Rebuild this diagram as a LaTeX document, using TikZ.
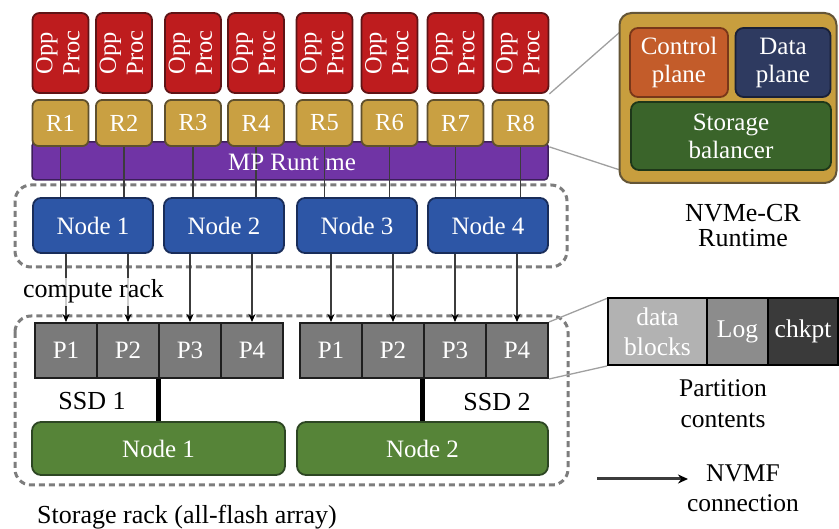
\documentclass[tikz,border=0pt]{standalone}
\usepackage{fontspec}
\setmainfont{Liberation Serif}
\usepackage{graphicx}
\usetikzlibrary{arrows.meta,calc}
\definecolor{oppF}{RGB}{190,28,30}
\definecolor{oppD}{RGB}{95,20,22}
\definecolor{rF}{RGB}{201,160,66}
\definecolor{rD}{RGB}{95,80,45}
\definecolor{mpF}{RGB}{112,52,165}
\definecolor{mpD}{RGB}{60,30,90}
\definecolor{nodeF}{RGB}{45,86,166}
\definecolor{nodeD}{RGB}{25,45,90}
\definecolor{pF}{RGB}{122,122,122}
\definecolor{pD}{RGB}{30,30,30}
\definecolor{gF}{RGB}{86,132,56}
\definecolor{gD}{RGB}{45,70,35}
\definecolor{rtF}{RGB}{200,158,62}
\definecolor{rtD}{RGB}{100,85,55}
\definecolor{cpF}{RGB}{195,92,42}
\definecolor{cpD}{RGB}{120,55,25}
\definecolor{dpF}{RGB}{46,58,96}
\definecolor{dpD}{RGB}{25,32,55}
\definecolor{sbF}{RGB}{58,100,42}
\definecolor{sbD}{RGB}{30,55,25}
\definecolor{dbF}{RGB}{178,178,178}
\definecolor{lgF}{RGB}{140,140,140}
\definecolor{ckF}{RGB}{58,58,58}
\definecolor{rackC}{RGB}{125,125,125}
\definecolor{calloutC}{RGB}{160,160,160}
\definecolor{linkC}{RGB}{60,60,60}
\newcommand\fsA{\fontsize{24.5}{27}\selectfont}
\newcommand\fsB{\fontsize{25}{28}\selectfont}
\newcommand\fsC{\fontsize{25.5}{30}\selectfont}
\newcommand\fsD{\fontsize{26}{28}\selectfont}
\begin{document}
\begin{tikzpicture}[x=1pt,y=-1pt,
  box/.style={draw, line width=1.8pt, inner sep=0pt, text=white, font=\fsB, align=center},
  opp/.style={box, draw=oppD, fill=oppF, rounded corners=7pt, minimum width=56pt, minimum height=80pt, font=\fsA},
  rbox/.style={box, draw=rD, fill=rF, rounded corners=6pt, minimum width=56pt, minimum height=46pt, font=\fsA},
  cnode/.style={box, draw=nodeD, fill=nodeF, rounded corners=8pt, minimum width=120pt, minimum height=55pt},
  part/.style={box, draw=pD, fill=pF, minimum width=62pt, minimum height=55pt, line width=2pt},
  snode/.style={box, draw=gD, fill=gF, rounded corners=9pt, minimum height=53pt},
  pc/.style={box, draw=black, minimum height=67pt, line width=2pt, font=\fsC},
  rack/.style={draw=rackC, line width=3pt, dash pattern=on 6pt off 4pt, rounded corners=16pt},
  link/.style={draw=linkC, line width=1.5pt},
  nvmf/.style={draw=linkC, line width=1.6pt, -{Stealth[length=8pt,width=7pt,color=black]}},
  callout/.style={draw=calloutC, line width=1.3pt},
  lbl/.style={font=\fsD, text=black, inner sep=0pt, align=center},
]
\useasboundingbox (0,0) rectangle (839,529);

% racks
\draw[rack] (15,185) rectangle (567,267);
\draw[rack] (15,316) rectangle (568,485);

% MP runtime bar
\node[box, draw=mpD, fill=mpF, rounded corners=4pt, minimum width=516pt, minimum height=38pt, line width=1.5pt] (mp) at (290,161) {};

% Opp Proc and R boxes
\foreach \i/\x in {1/60.5,2/124,3/193,4/256,5/324.5,6/389.5,7/455.5,8/520.5} {
  \node[opp] (o\i) at (\x,53) {\rotatebox{90}{\begin{tabular}{@{}c@{}}Opp\\Proc\end{tabular}}};
  \node[rbox] (r\i) at (\x,123) {R\i};
}

% compute nodes
\foreach \i/\x in {1/93,2/224,3/357,4/488}
  \node[cnode] (n\i) at (\x,225.5) {Node \i};

% partitions
\foreach \i/\x in {1/66,2/128,3/190,4/252}
  \node[part] (a\i) at (\x,350.5) {P\i};
\foreach \i/\x in {1/331,2/393,3/455,4/517}
  \node[part] (b\i) at (\x,350.5) {P\i};

% storage nodes
\node[snode, minimum width=253pt] (g1) at (158.5,448.5) {Node 1};
\node[snode, minimum width=251pt] (g2) at (422.5,448.5) {Node 2};

\draw[line width=5pt, black] (g1.north) -- (g1.north |- a2.south);
\draw[line width=5pt, black] (g2.north) -- (g2.north |- b2.south);

% R to compute nodes
\foreach \i/\n in {1/1,2/1,3/2,4/2,5/3,6/3,7/4,8/4}
  \draw[link] (r\i.south) -- (r\i.south |- n\n.north);

\node[font=\fsB, text=white, inner sep=0pt] (mpt) at ($(mp.center)+(2,1)$) {MP Runt me};

% NVMF connections
\foreach \p/\n in {a1/n1,a2/n1,a3/n2,a4/n2,b1/n3,b2/n3,b3/n4,b4/n4}
  \draw[nvmf] (\p.north |- \n.south) -- (\p.north);

\node[lbl, anchor=base west, fill=white, fill opacity=0.75, text opacity=1, inner sep=2pt] (crl) at (21,298) {compute rack};
\node[lbl, anchor=base] (ssd1) at (92,410) {SSD 1};
\node[lbl, anchor=base] (ssd2) at (497,411) {SSD 2};
\node[lbl, anchor=base] (srl) at (187,523) {Storage rack (all-flash array)};

% callouts to NVMe-CR runtime
\coordinate (c1) at (620,32);
\coordinate (c2) at (620,170);
\draw[callout] (o8.south east) -- (c1);
\draw[callout] (r8.south east) -- (c2);

\node[box, draw=rtD, fill=rtF, rounded corners=12pt, minimum width=217pt, minimum height=170pt, line width=2pt] (rt) at (728,98) {};
\node[box, draw=cpD, fill=cpF, rounded corners=8pt, minimum width=98pt, minimum height=69pt] (cp) at (679,62.5) {Control\\plane};
\node[box, draw=dpD, fill=dpF, rounded corners=8pt, minimum width=95pt, minimum height=69pt] (dp) at (783,62.5) {Data\\plane};
\node[box, draw=sbD, fill=sbF, rounded corners=8pt, minimum width=200pt, minimum height=68pt] (sb) at (731,136) {Storage\\balancer};
\node[lbl, font=\fontsize{26}{25}\selectfont] (rtl) at (743,226) {NVMe-CR\\Runtime};

% partition contents
\draw[callout] (b4.north east) -- (608,298) coordinate (pcA);
\node[pc, fill=dbF, minimum width=99pt] (pdb) at (657.5,331.5) {data\\blocks};
\node[pc, fill=lgF, minimum width=61pt] (plg) at (737.5,331.5) {Log};
\node[pc, fill=ckF, minimum width=70pt] (pck) at (803,331.5) {chkpt};
\draw[callout] (b4.south east) -- (pdb.south west);
\node[lbl, font=\fontsize{25.5}{31}\selectfont] (pcl) at (723,404) {Partition\\contents};

% legend
\coordinate (ls) at (597,479);
\coordinate (le) at (688,479);
\draw[draw=linkC, line width=3pt, -{Stealth[length=10pt,width=9pt,color=black]}] (ls) -- (le);
\node[lbl, font=\fontsize{25.5}{30}\selectfont] (leg) at (743,488) {NVMF\\connection};
\end{tikzpicture}
\end{document}
